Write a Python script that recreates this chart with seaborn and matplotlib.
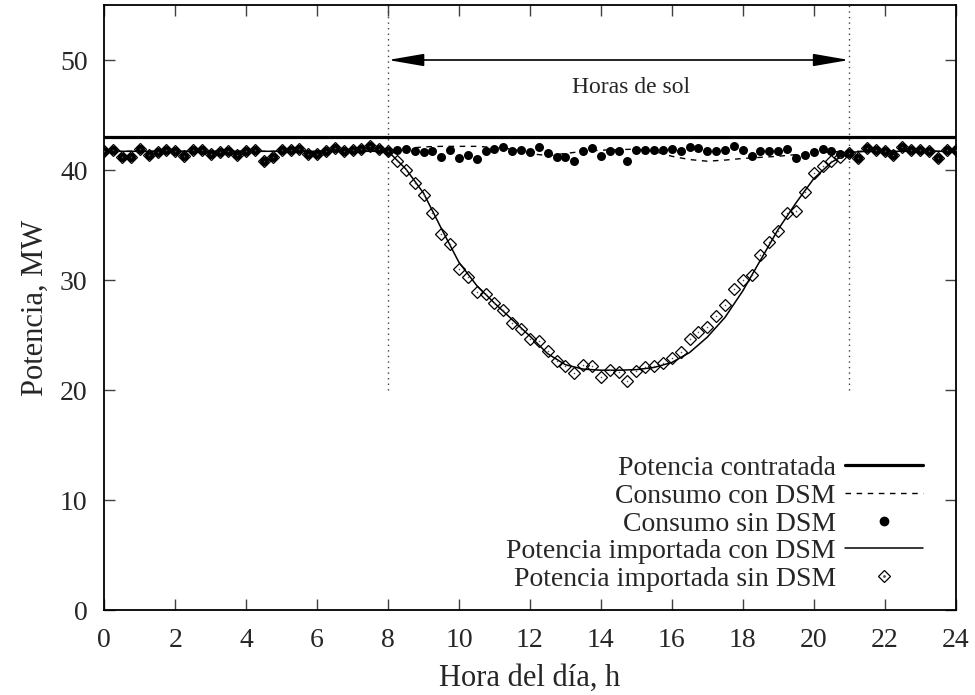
import numpy as np
import pandas as pd
import matplotlib
matplotlib.use("Agg")
import matplotlib.pyplot as plt
import seaborn as sns
from matplotlib.lines import Line2D
from matplotlib.legend_handler import HandlerTuple
from matplotlib.patches import ArrowStyle

# ---------------- data ----------------
hours = np.arange(0, 24.25, 0.25)        # 15-min grid
hours_half = np.arange(0, 24.5, 0.5)     # 30-min grid

potencia_contratada = 43.0
sol_inicio, sol_fin = 8, 21

consumo_sin_dsm = [
    41.76, 41.82, 41.21, 41.15, 41.91, 41.40, 41.61, 41.82,   # 0 - 1.75
    41.70, 41.31, 41.82, 41.82, 41.46, 41.61, 41.76, 41.40,   # 2 - 3.75
    41.70, 41.82, 40.85, 41.15, 41.82, 41.82, 41.91, 41.46,   # 4 - 5.75
    41.46, 41.70, 42.00, 41.76, 41.82, 41.91, 42.22, 41.91,   # 6 - 7.75
    41.76, 41.82, 41.91, 41.76, 41.61, 41.70, 41.21, 41.82,   # 8 - 9.75
    41.09, 41.40, 41.00, 41.76, 41.91, 42.12, 41.70, 41.82,   # 10 - 11.75
    41.61, 42.12, 41.52, 41.15, 41.15, 40.85, 41.76, 42.00,   # 12 - 13.75
    41.31, 41.76, 41.70, 40.85, 41.82, 41.85, 41.80, 41.82,   # 14 - 15.75
    41.88, 41.70, 42.06, 42.00, 41.70, 41.70, 41.82, 42.22,   # 16 - 17.75
    41.82, 41.31, 41.70, 41.76, 41.76, 41.91, 41.09, 41.40,   # 18 - 19.75
    41.61, 41.91, 41.76, 41.46, 41.52, 41.09, 42.00, 41.82,   # 20 - 21.75
    41.70, 41.40, 42.06, 41.82, 41.82, 41.70, 41.09, 41.82,   # 22 - 23.75
    41.82,                                                    # 24
]

# imported power without DSM during sun hours (8:00 - 21:00, every 15 min)
importada_sin_dsm_sol = [
    41.76, 40.80, 40.00, 38.80,   # 8
    37.70, 36.10, 34.15, 33.24,   # 9
    31.00, 30.27, 28.90, 28.70,   # 10
    27.87, 27.30, 26.05, 25.56,   # 11
    24.60, 24.47, 23.53, 22.68,   # 12
    22.16, 21.55, 22.30, 22.16,   # 13
    21.19, 21.86, 21.61, 20.79,   # 14
    21.70, 22.10, 22.22, 22.50,   # 15
    22.92, 23.47, 24.60, 25.26,   # 16
    25.71, 26.70, 27.72, 29.20,   # 17
    29.96, 30.45, 32.24, 33.45,   # 18
    34.50, 36.07, 36.28, 38.00,   # 19
    39.77, 40.40, 40.84, 41.20,   # 20
    41.52,                        # 21
]

consumo_con_dsm = [
    41.7, 41.7, 41.7, 41.7, 41.7, 41.7, 41.7, 41.7,   # 0 - 3.5
    41.7, 41.7, 41.7, 41.7, 41.7, 41.7, 41.7, 41.7,   # 4 - 7.5
    41.8, 41.95, 42.1, 42.15, 42.15, 42.15, 42.05, 41.9,   # 8 - 11.5
    41.5, 41.3, 41.5, 41.7, 41.8, 41.85, 41.9, 41.7,       # 12 - 15.5
    41.25, 40.95, 40.8, 40.9, 41.05, 41.15, 41.25, 41.4,   # 16 - 19.5
    41.55, 41.65, 41.7, 41.7, 41.7, 41.7, 41.7, 41.7,      # 20 - 23.5
    41.7,                                                  # 24
]

importada_con_dsm = [
    41.7, 41.7, 41.7, 41.7, 41.7, 41.7, 41.7, 41.7,   # 0 - 3.5
    41.7, 41.7, 41.7, 41.7, 41.7, 41.7, 41.7, 41.7,   # 4 - 7.5
    41.7, 40.1, 37.9, 34.7, 31.6, 29.5, 27.9, 26.4,   # 8 - 11.5
    24.9, 23.3, 22.3, 21.9, 21.8, 21.8, 21.85, 22.05,  # 12 - 15.5
    22.5, 23.4, 24.8, 26.6, 29.0, 31.8, 34.6, 37.0,    # 16 - 19.5
    39.2, 40.7, 41.6, 41.7, 41.7, 41.7, 41.7, 41.7,    # 20 - 23.5
    41.7,                                              # 24
]

i0 = int(sol_inicio * 4)
i1 = int(sol_fin * 4) + 1
importada_sin_dsm = consumo_sin_dsm[:i0] + importada_sin_dsm_sol + consumo_sin_dsm[i1:]

df15 = pd.DataFrame({"hora": hours,
                     "consumo_sin": consumo_sin_dsm,
                     "importada_sin": importada_sin_dsm})
df30 = pd.DataFrame({"hora": hours_half,
                     "consumo_con": consumo_con_dsm,
                     "importada_con": importada_con_dsm})

# ---------------- style ----------------
sns.set_theme(style="ticks")
plt.rcParams["font.family"] = ["Liberation Serif", "DejaVu Serif"]

fig = plt.figure(figsize=(9.75, 6.95), dpi=100)
ax = fig.add_axes([0.107, 0.1223, 0.873, 0.8705])

# contracted power
ax.axhline(potencia_contratada, color="black", lw=2.3, zorder=2)

# consumption with DSM (dashed)
sns.lineplot(data=df30, x="hora", y="consumo_con", ax=ax, color="black",
             lw=1.0, linestyle=(0, (4, 4)), errorbar=None, zorder=2)

# consumption without DSM (filled dots)
sns.scatterplot(data=df15, x="hora", y="consumo_sin", ax=ax, color="black",
                s=42, linewidth=0, zorder=4)

# imported with DSM (thin solid)
sns.lineplot(data=df30, x="hora", y="importada_con", ax=ax, color="black",
             lw=1.1, errorbar=None, zorder=3)

# imported without DSM (open diamonds with a tiny centre dot)
sns.lineplot(data=df15, x="hora", y="importada_sin", ax=ax, color="black",
             linestyle="", marker="D", markersize=6.3, markerfacecolor="none",
             markeredgecolor="black", markeredgewidth=0.9, errorbar=None, zorder=5)
sns.scatterplot(data=df15, x="hora", y="importada_sin", ax=ax, color="0.3",
                s=1.2, linewidth=0, zorder=5)

# sun hours annotation
ax.vlines([sol_inicio, sol_fin], 20, 55, colors="0.25", lw=1.0,
          linestyles=(0, (1, 3)), zorder=1)
ax.annotate("", xy=(sol_fin, 50), xytext=(sol_inicio, 50),
            arrowprops=dict(arrowstyle=ArrowStyle("<|-|>", head_length=2.2, head_width=0.38),
                            mutation_scale=10, color="black", lw=1.2,
                            shrinkA=0, shrinkB=0))
ax.text(14.85, 47.5, "Horas de sol", ha="center", va="center", fontsize=17)

# axes
ax.set_xlim(0, 24)
ax.set_ylim(0, 55)
ax.set_xticks(np.arange(0, 25, 2))
ax.set_yticks(np.arange(0, 51, 10))
ax.tick_params(direction="in", length=8, width=1, color="0.25",
               top=True, right=True, labelsize=20)
ax.tick_params(axis="x", pad=13)
ax.tick_params(axis="y", pad=12)
for sp in ax.spines.values():
    sp.set_linewidth(1.3)
    sp.set_color("black")
    sp.set_visible(True)
ax.set_xlabel("Hora del día, h", fontsize=22, labelpad=8)
ax.set_ylabel("Potencia, MW", fontsize=22, labelpad=7)

# legend
h1 = Line2D([], [], color="black", lw=2.3)
h2 = Line2D([], [], color="black", lw=1.0, linestyle=(0, (4, 4)))
h3 = Line2D([], [], color="black", linestyle="", marker="o", markersize=6)
h4 = Line2D([], [], color="black", lw=1.1)
h5a = Line2D([], [], linestyle="", marker="D", markersize=6.0, markerfacecolor="none",
             markeredgecolor="black", markeredgewidth=0.9)
h5b = Line2D([], [], linestyle="", marker="o", markersize=1.0, color="0.3")
ax.legend([h1, h2, h3, h4, (h5a, h5b)],
          ["Potencia contratada", "Consumo con DSM", "Consumo sin DSM",
           "Potencia importada con DSM", "Potencia importada sin DSM"],
          loc="lower right", bbox_to_anchor=(0.962, 0.03), frameon=False,
          markerfirst=False, fontsize=20, handlelength=2.8, handletextpad=0.35,
          labelspacing=0.08, borderpad=0, borderaxespad=0, numpoints=1,
          handler_map={tuple: HandlerTuple(ndivide=1, pad=0)})

fig.savefig("out.png", dpi=100)
